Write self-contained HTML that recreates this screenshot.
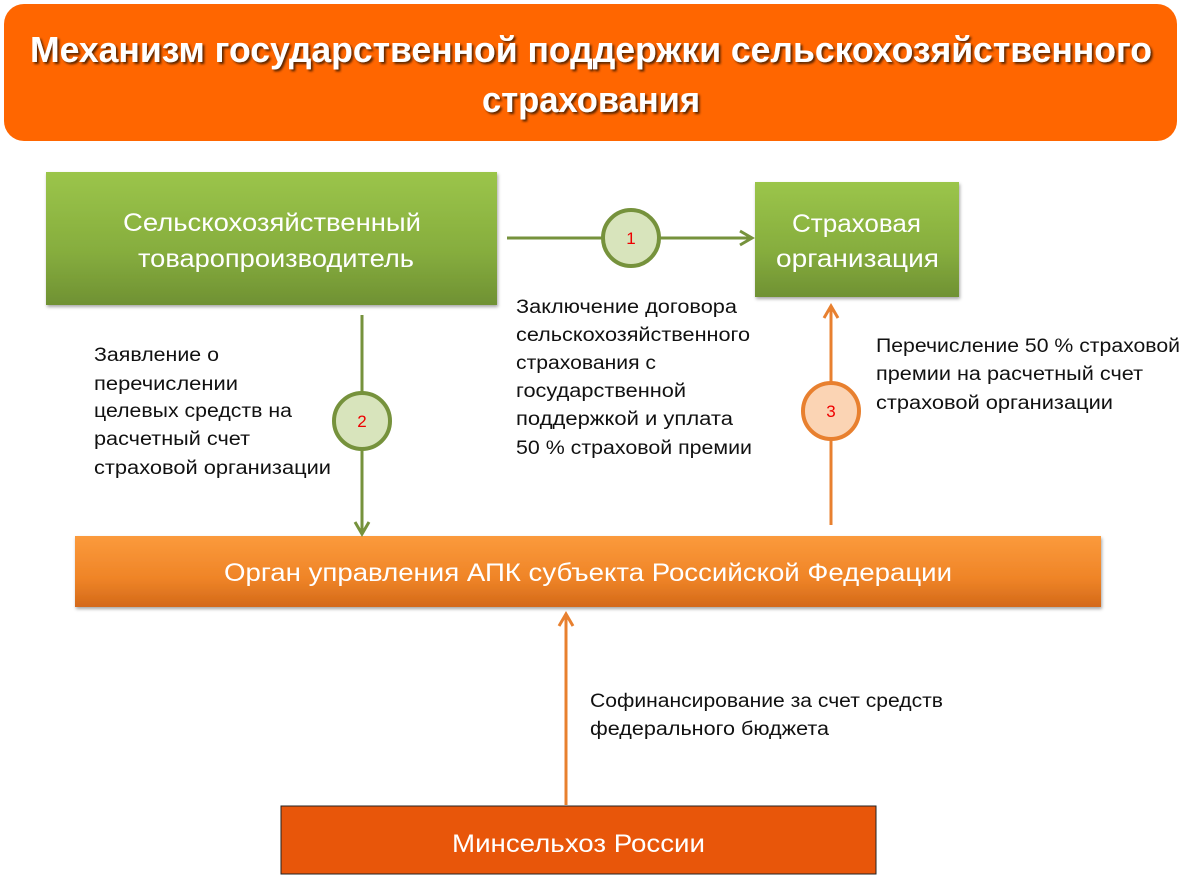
<!DOCTYPE html>
<html><head><meta charset="utf-8"><style>html,body{margin:0;padding:0;background:#fff;}svg{display:block}</style></head>
<body>
<svg width="1187" height="895" viewBox="0 0 1187 895" xmlns="http://www.w3.org/2000/svg" font-family="'Liberation Sans','DejaVu Sans',sans-serif">
<defs>
<linearGradient id="g" x1="0" y1="0" x2="0" y2="1"><stop offset="0" stop-color="#9bc54a"/><stop offset="0.6" stop-color="#86ad3e"/><stop offset="1" stop-color="#6f9133"/></linearGradient>
<linearGradient id="o" x1="0" y1="0" x2="0" y2="1"><stop offset="0" stop-color="#fb9a3c"/><stop offset="0.6" stop-color="#ef8427"/><stop offset="1" stop-color="#d3691a"/></linearGradient>
<filter id="sh" x="-10%" y="-10%" width="120%" height="130%"><feDropShadow dx="1" dy="2" stdDeviation="1.5" flood-color="#000" flood-opacity="0.35"/></filter>
<filter id="ts"><feDropShadow dx="2" dy="2" stdDeviation="1" flood-color="#4a1a00" flood-opacity="0.9"/></filter>
</defs>
<rect x="4" y="4" width="1173" height="137" rx="20" fill="#ff6600"/>
<g fill="#fff" font-weight="bold" font-size="36" filter="url(#ts)" text-anchor="start">
<text x="30" y="62" textLength="1122" lengthAdjust="spacingAndGlyphs">Механизм государственной поддержки сельскохозяйственного</text>
<text x="482" y="112" textLength="218" lengthAdjust="spacingAndGlyphs">страхования</text>
</g>
<rect x="46" y="172" width="451" height="133" fill="url(#g)" filter="url(#sh)"/>
<rect x="755" y="182" width="204" height="115" fill="url(#g)" filter="url(#sh)"/>
<rect x="75" y="536" width="1026" height="71" fill="url(#o)" filter="url(#sh)"/>
<rect x="281" y="806" width="595" height="68" fill="#e8560a" stroke="#222" stroke-width="1"/>
<g fill="#fff" font-size="25">
<text x="123" y="231" textLength="298" lengthAdjust="spacingAndGlyphs">Сельскохозяйственный</text>
<text x="138" y="267" textLength="276" lengthAdjust="spacingAndGlyphs">товаропроизводитель</text>
<text x="792" y="232" textLength="129" lengthAdjust="spacingAndGlyphs">Страховая</text>
<text x="776" y="267" textLength="163" lengthAdjust="spacingAndGlyphs">организация</text>
<text x="224" y="581" textLength="728" lengthAdjust="spacingAndGlyphs">Орган управления АПК субъекта Российской Федерации</text>
<text x="452" y="852" textLength="253" lengthAdjust="spacingAndGlyphs">Минсельхоз России</text>
</g>
<g stroke-width="3" fill="none">
<line x1="507" y1="238" x2="752" y2="238" stroke="#76923c"/>
<polyline points="740,231 752,238 740,245" stroke="#76923c"/>
<line x1="362" y1="315" x2="362" y2="534" stroke="#76923c"/>
<polyline points="355,522 362,534 369,522" stroke="#76923c"/>
<line x1="831" y1="525" x2="831" y2="306" stroke="#e8802f"/>
<polyline points="824,318 831,306 838,318" stroke="#e8802f"/>
<line x1="566" y1="805" x2="566" y2="614" stroke="#e8802f"/>
<polyline points="559,626 566,614 573,626" stroke="#e8802f"/>
</g>
<circle cx="631" cy="238" r="28" fill="#d8e4bc" stroke="#76923c" stroke-width="4"/>
<circle cx="362" cy="421" r="28" fill="#d8e4bc" stroke="#76923c" stroke-width="4"/>
<circle cx="831" cy="411" r="28" fill="#fbd4b4" stroke="#e8802f" stroke-width="4"/>
<g fill="#e00" font-size="17" text-anchor="middle">
<text x="631" y="244">1</text><text x="362" y="427">2</text><text x="831" y="417">3</text>
</g>
<g fill="#111" font-size="19" lengthAdjust="spacingAndGlyphs">
<text x="516" y="313" textLength="221" lengthAdjust="spacingAndGlyphs">Заключение договора</text>
<text x="516" y="341" textLength="234" lengthAdjust="spacingAndGlyphs">сельскохозяйственного</text>
<text x="516" y="369" textLength="140" lengthAdjust="spacingAndGlyphs">страхования с</text>
<text x="516" y="397" textLength="170" lengthAdjust="spacingAndGlyphs">государственной</text>
<text x="516" y="425" textLength="217" lengthAdjust="spacingAndGlyphs">поддержкой и уплата</text>
<text x="516" y="454" textLength="236" lengthAdjust="spacingAndGlyphs">50 % страховой премии</text>
<text x="94" y="361" textLength="125" lengthAdjust="spacingAndGlyphs">Заявление о</text>
<text x="94" y="390" textLength="144" lengthAdjust="spacingAndGlyphs">перечислении</text>
<text x="94" y="417" textLength="198" lengthAdjust="spacingAndGlyphs">целевых средств на</text>
<text x="94" y="445" textLength="156" lengthAdjust="spacingAndGlyphs">расчетный счет</text>
<text x="94" y="474" textLength="237" lengthAdjust="spacingAndGlyphs">страховой организации</text>
<text x="876" y="352" textLength="304" lengthAdjust="spacingAndGlyphs">Перечисление 50 % страховой</text>
<text x="876" y="380" textLength="267" lengthAdjust="spacingAndGlyphs">премии на расчетный счет</text>
<text x="876" y="409" textLength="237" lengthAdjust="spacingAndGlyphs">страховой организации</text>
<text x="590" y="707" textLength="353" lengthAdjust="spacingAndGlyphs">Софинансирование за счет средств</text>
<text x="590" y="735" textLength="239" lengthAdjust="spacingAndGlyphs">федерального бюджета</text>
</g>
</svg>
</body></html>
